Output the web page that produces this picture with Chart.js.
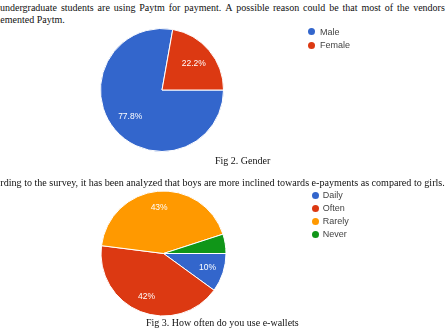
<!DOCTYPE html>
<html><head><meta charset="utf-8">
<script src="https://cdn.jsdelivr.net/npm/chart.js@4"></script>
<style>
html,body{margin:0;padding:0;background:#fff;}
#page{position:relative;width:447px;height:329px;overflow:hidden;background:#fff;font-family:"Liberation Serif","Times New Roman",serif;font-size:10px;color:#111;}
.t{position:absolute;white-space:nowrap;line-height:12px;}
.just{display:flex;justify-content:space-between;}
canvas{position:absolute;}
.legtxt{position:absolute;white-space:nowrap;font-family:"Liberation Sans",Arial,sans-serif;font-size:9px;color:#444;line-height:12px;}
.dot{position:absolute;width:7px;height:7px;border-radius:50%;}
</style></head>
<body><div id="page">
<div class="t just" id="line1" style="left:0;top:2px;width:445px;"></div>
<div class="t" style="left:-18px;top:14px;">implemented Paytm.</div>
<canvas id="c1" width="140" height="140" style="left:92px;top:20px;width:140px;height:140px;"></canvas>
<div class="t" style="left:215px;top:155px;">Fig 2. Gender</div>
<div class="t" style="left:-21px;top:177px;font-size:10.1px;">According to the survey, it has been analyzed that boys are more inclined towards e-payments as compared to girls.</div>
<canvas id="c2" width="141" height="141" style="left:93px;top:183px;width:141px;height:141px;"></canvas>
<div class="t" style="left:146px;top:317px;">Fig 3. How often do you use e-wallets</div>
</div>
<script>
const introText = "undergraduate students are using Paytm for payment. A possible reason could be that most of the vendors";

const genderLabels = ["Male", "Female"];
const genderValues = [77.8, 22.2];

const walletLabels = ["Daily", "Often", "Rarely", "Never"];
const walletValues = [10, 42, 43, 5];

const genderColors = ["#3366cc", "#dc3912"];
const walletColors = ["#3366cc", "#dc3912", "#ff9900", "#109618"];

// justified first line
const l1 = document.getElementById("line1");
introText.split(" ").forEach(w => { const s = document.createElement("span"); s.textContent = w; l1.appendChild(s); });

const sliceLabels = {
  id: "sliceLabels",
  afterDatasetsDraw(chart, args, opts) {
    const ctx = chart.ctx;
    const meta = chart.getDatasetMeta(0);
    const ds = chart.data.datasets[0];
    ctx.save();
    ctx.font = opts.fontSize + "px 'Liberation Sans', Arial, sans-serif";
    ctx.fillStyle = "#ffffff";
    ctx.textAlign = "center";
    ctx.textBaseline = "middle";
    meta.data.forEach((arc, i) => {
      const v = ds.data[i];
      if (v < opts.min) return;
      const p = arc.getProps(["x", "y", "startAngle", "endAngle", "outerRadius"], true);
      const mid = (p.startAngle + p.endAngle) / 2;
      const r = p.outerRadius * opts.factor;
      ctx.fillText(v.toFixed(opts.decimals) + "%", p.x + Math.cos(mid) * r, p.y + Math.sin(mid) * r);
    });
    ctx.restore();
  }
};

function makePie(id, labels, values, colors, radius, factor, decimals) {
  return new Chart(document.getElementById(id), {
    type: "pie",
    data: { labels: labels, datasets: [{ data: values, backgroundColor: colors, borderColor: "#ffffff", borderWidth: 1 }] },
    options: {
      responsive: false, animation: false, events: [],
      rotation: 90, radius: radius,
      layout: { padding: 0 },
      plugins: {
        legend: { display: false }, tooltip: { enabled: false },
        sliceLabels: { factor: factor, decimals: decimals, min: 6, fontSize: 8.5 }
      }
    },
    plugins: [sliceLabels]
  });
}

function makeLegend(labels, colors, dotX, textX, y0, step) {
  const page = document.getElementById("page");
  labels.forEach((lab, i) => {
    const y = y0 + i * step;
    const d = document.createElement("div");
    d.className = "dot"; d.style.background = colors[i];
    d.style.left = (dotX - 3.5) + "px"; d.style.top = (y - 3.5) + "px";
    page.appendChild(d);
    const t = document.createElement("div");
    t.className = "legtxt"; t.textContent = lab;
    t.style.left = textX + "px"; t.style.top = (y - 6) + "px";
    page.appendChild(t);
  });
}

makePie("c1", genderLabels, genderValues, genderColors, 61.5, 0.675, 1);
makePie("c2", walletLabels, walletValues, walletColors, 62.5, 0.74, 0);
makeLegend(genderLabels, genderColors, 311.7, 320, 31.7, 13.3);
makeLegend(walletLabels, walletColors, 315, 322.7, 195, 13);
</script>
</body></html>
